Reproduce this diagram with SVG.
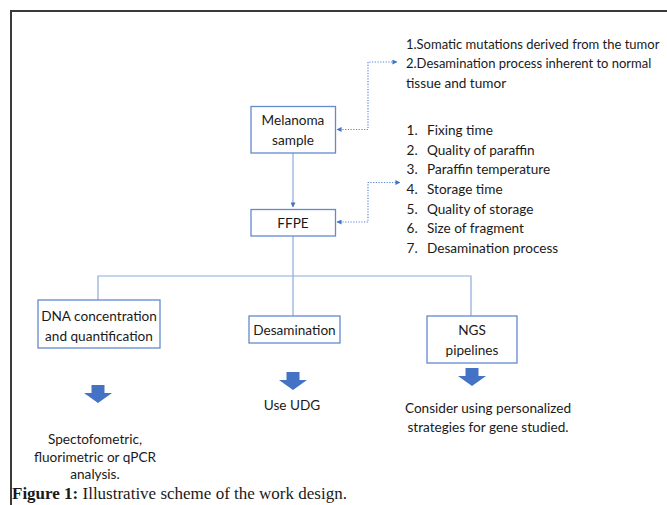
<svg xmlns="http://www.w3.org/2000/svg" xmlns:xlink="http://www.w3.org/1999/xlink" width="667" height="505" viewBox="0 0 667 505">
  <style>
    .frame { fill: none; stroke: #3a3a3a; stroke-width: 2; }
    .box { fill: #ffffff; stroke: #6389CF; stroke-width: 1.3; }
    .conn { fill: none; stroke: #8EAADB; stroke-width: 1.2; }
    .dot { fill: none; stroke: #5B86D6; stroke-width: 1.2; stroke-dasharray: 1.2 1.5; }
    .t { font-family: Lato, "Liberation Sans", sans-serif; font-size: 13.6px; fill: #1a1a1a; }
    .s { font-size: 13px; }
    .c { text-anchor: middle; }
    .big { fill: #4472C4; }
    .cap { font-family: "Liberation Serif", serif; font-size: 17px; fill: #1a1a1a; }
  </style>
  <defs>
    <marker id="ah" viewBox="0 0 6 6" refX="5.5" refY="3" markerWidth="5" markerHeight="5" markerUnits="userSpaceOnUse" orient="auto-start-reverse">
      <path d="M0,0 L6,3 L0,6 Z" fill="#4472C4"/>
    </marker>
    <path id="barrow" d="M-6.5,0 H6.5 V8 H14 L0,18 L-14,8 H-6.5 Z"/>
  </defs>
  <rect width="667" height="505" fill="#ffffff"/>
  <path class="frame" d="M11,505 V11 H667"/>

  <g id="connectors">
    <path class="conn" d="M293,153 V207" marker-end="url(#ah)"/>
    <path class="conn" d="M293,236 V316"/>
    <path class="conn" d="M98,300 V276 H471 V316"/>
    <path class="dot" d="M337,129.5 H368 V62 H397" marker-start="url(#ah)" marker-end="url(#ah)"/>
    <path class="dot" d="M337,222 H368 V182.5 H400" marker-start="url(#ah)" marker-end="url(#ah)"/>
  </g>

  <g id="melanoma">
    <rect class="box" x="251" y="106.5" width="84.5" height="46.5"/>
    <text class="t c" x="293" y="125">Melanoma</text>
    <text class="t c" x="293" y="144.5">sample</text>
  </g>
  <g id="ffpe">
    <rect class="box" x="251" y="209.5" width="84.5" height="26.5"/>
    <text class="t c" x="293" y="227.5">FFPE</text>
  </g>
  <g id="notes-top">
    <text class="t s" x="406" y="48.5">1.Somatic mutations derived from the tumor</text>
    <text class="t s" x="406" y="68">2.Desamination process inherent to normal</text>
    <text class="t" x="406" y="87.5">tissue and tumor</text>
  </g>
  <g id="notes-list">
    <text class="t" x="406.5" y="135">1.</text><text class="t" x="427" y="135">Fixing time</text>
    <text class="t" x="406.5" y="154.5">2.</text><text class="t" x="427" y="154.5">Quality of paraffin</text>
    <text class="t" x="406.5" y="174">3.</text><text class="t" x="427" y="174">Paraffin temperature</text>
    <text class="t" x="406.5" y="194">4.</text><text class="t" x="427" y="194">Storage time</text>
    <text class="t" x="406.5" y="213.5">5.</text><text class="t" x="427" y="213.5">Quality of storage</text>
    <text class="t" x="406.5" y="233">6.</text><text class="t" x="427" y="233">Size of fragment</text>
    <text class="t" x="406.5" y="252.5">7.</text><text class="t" x="427" y="252.5">Desamination process</text>
  </g>
  <g id="dna">
    <rect class="box" x="38" y="300" width="122" height="48"/>
    <text class="t c" x="99" y="321">DNA concentration</text>
    <text class="t c" x="99" y="341">and quantification</text>
  </g>
  <g id="desamination">
    <rect class="box" x="249" y="316" width="91" height="27"/>
    <text class="t c" x="294.5" y="334.5">Desamination</text>
  </g>
  <g id="ngs">
    <rect class="box" x="427" y="316" width="90" height="47"/>
    <text class="t c" x="472" y="335">NGS</text>
    <text class="t c" x="472" y="355">pipelines</text>
  </g>
  <g id="dna-result">
    <use xlink:href="#barrow" href="#barrow" class="big" x="98" y="385"/>
    <text class="t c" x="95" y="444">Spectofometric,</text>
    <text class="t c" x="95" y="461.5">fluorimetric or qPCR</text>
    <text class="t c" x="95" y="479">analysis.</text>
  </g>
  <g id="desamination-result">
    <use xlink:href="#barrow" href="#barrow" class="big" x="293" y="372"/>
    <text class="t c" x="292" y="410">Use UDG</text>
  </g>
  <g id="ngs-result">
    <use xlink:href="#barrow" href="#barrow" class="big" x="472" y="368"/>
    <text class="t c" x="488" y="413">Consider using personalized</text>
    <text class="t c" x="488" y="432">strategies for gene studied.</text>
  </g>
  <g id="caption">
    <text class="cap" x="12" y="498.5"><tspan font-weight="bold">Figure 1:</tspan> Illustrative scheme of the work design.</text>
  </g>
</svg>
